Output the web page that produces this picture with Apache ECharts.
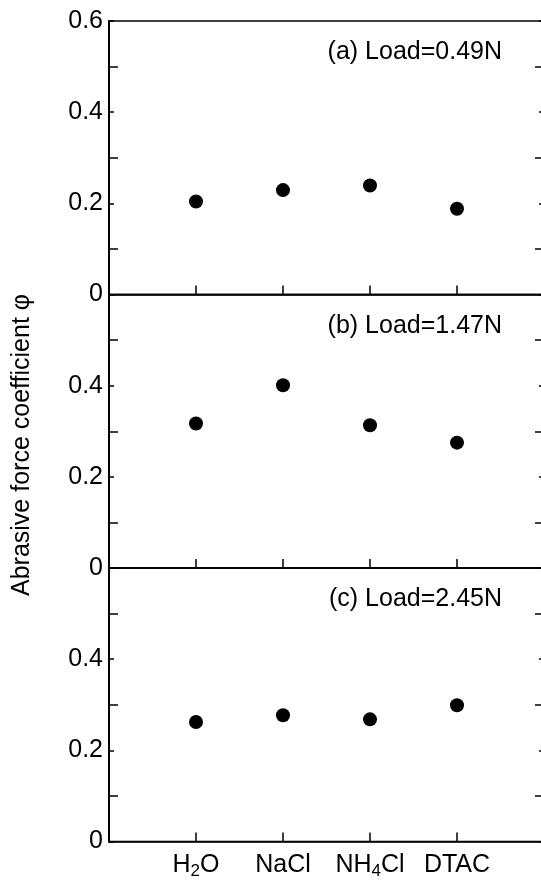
<!DOCTYPE html>
<html><head><meta charset="utf-8">
<script src="https://cdn.jsdelivr.net/npm/echarts@6/dist/echarts.min.js"></script>
<style>html,body{margin:0;padding:0;background:#fff}#c{width:541px;height:882px}</style>
</head><body><div id="c"></div>
<script>
const categories = ['H2O', 'NaCl', 'NH4Cl', 'DTAC'];
const panelLabels = ['(a) Load=0.49N', '(b) Load=1.47N', '(c) Load=2.45N'];
const valuesA = [0.204, 0.229, 0.239, 0.188];
const valuesB = [0.317, 0.401, 0.313, 0.275];
const valuesC = [0.262, 0.277, 0.268, 0.299];
const yTicks = [0, 0.2, 0.4, 0.6];
const yTitle = 'Abrasive force coefficient \u03c6';

const panels = [valuesA, valuesB, valuesC];
const FONT = '"Liberation Sans", Arial, Helvetica, sans-serif';
const FS = 25;
const left = 109, width = 435, top0 = 21, ph = 273.5;
const richLabel = {
  'H2O': '{n|H}{s|2}{n|O}',
  'NaCl': '{n|NaCl}',
  'NH4Cl': '{n|NH}{s|4}{n|Cl}',
  'DTAC': '{n|DTAC}'
};
const axisData = [''].concat(categories, ['']);

const grids = [], xAxes = [], yAxes = [], series = [], graphics = [];
panels.forEach((vals, k) => {
  const top = top0 + k * ph;
  grids.push({left: left, width: width, top: top, height: ph, show: true, borderColor: '#000', borderWidth: 1.5,
    backgroundColor: 'transparent', containLabel: false, outerBoundsMode: 'none'});
  xAxes.push({
    type: 'category', gridIndex: k, data: axisData, boundaryGap: false,
    axisLine: {lineStyle: {color: '#000', width: 1.5}},
    axisTick: {show: true, inside: true, length: 9, lineStyle: {color: '#000', width: 1.5}},
    axisLabel: {
      show: k === 2, margin: 10, interval: 0, hideOverlap: false,
      formatter: v => richLabel[v] || '',
      rich: {
        n: {fontFamily: FONT, fontSize: FS, color: '#000', lineHeight: 28, verticalAlign: 'middle'},
        s: {fontFamily: FONT, fontSize: 17, color: '#000', lineHeight: 12, verticalAlign: 'bottom'}
      }
    },
    splitLine: {show: false}
  });
  const yBase = {
    type: 'value', gridIndex: k, min: 0, max: 0.6, interval: 0.2,
    axisLine: {show: true, lineStyle: {color: '#000', width: 2}},
    axisTick: {show: true, inside: true, length: 5, lineStyle: {color: '#000', width: 1.5}},
    minorTick: {show: true, splitNumber: 2, length: 9, lineStyle: {color: '#000', width: 1.5}},
    splitLine: {show: false}
  };
  yAxes.push(Object.assign({}, yBase, {
    position: 'left',
    axisLabel: {
      show: true, margin: 6, fontFamily: FONT, fontSize: FS, color: '#000',
      formatter: v => {
        const r = Math.round(v * 10);
        if (k > 0 && r === 6) return '';
        const t = yTicks.find(x => Math.abs(x - v) < 1e-6);
        if (t === undefined) return '';
        return t === 0 ? '0' : t.toFixed(1);
      }
    }
  }));
  yAxes.push(Object.assign({}, yBase, {position: 'right', axisLabel: {show: false}}));
  series.push({
    type: 'scatter', xAxisIndex: k, yAxisIndex: 2 * k,
    symbol: 'circle', symbolSize: 14,
    itemStyle: {color: '#000', opacity: 1},
    data: categories.map((c, i) => [i + 1, vals[i]])
  });
  graphics.push({
    type: 'text', right: 541 - 502, top: top + 33 - 14,
    style: {text: panelLabels[k], font: FS + 'px ' + FONT, fill: '#000'}
  });
});
graphics.push({
  type: 'text', x: 22, y: 445, rotation: Math.PI / 2,
  style: {text: yTitle, font: FS + 'px ' + FONT, fill: '#000', textAlign: 'center', textVerticalAlign: 'middle'}
});

const chart = echarts.init(document.getElementById('c'), null, {renderer: 'canvas'});
chart.setOption({
  animation: false,
  backgroundColor: '#fff',
  grid: grids, xAxis: xAxes, yAxis: yAxes, series: series, graphic: graphics
});
</script></body></html>
